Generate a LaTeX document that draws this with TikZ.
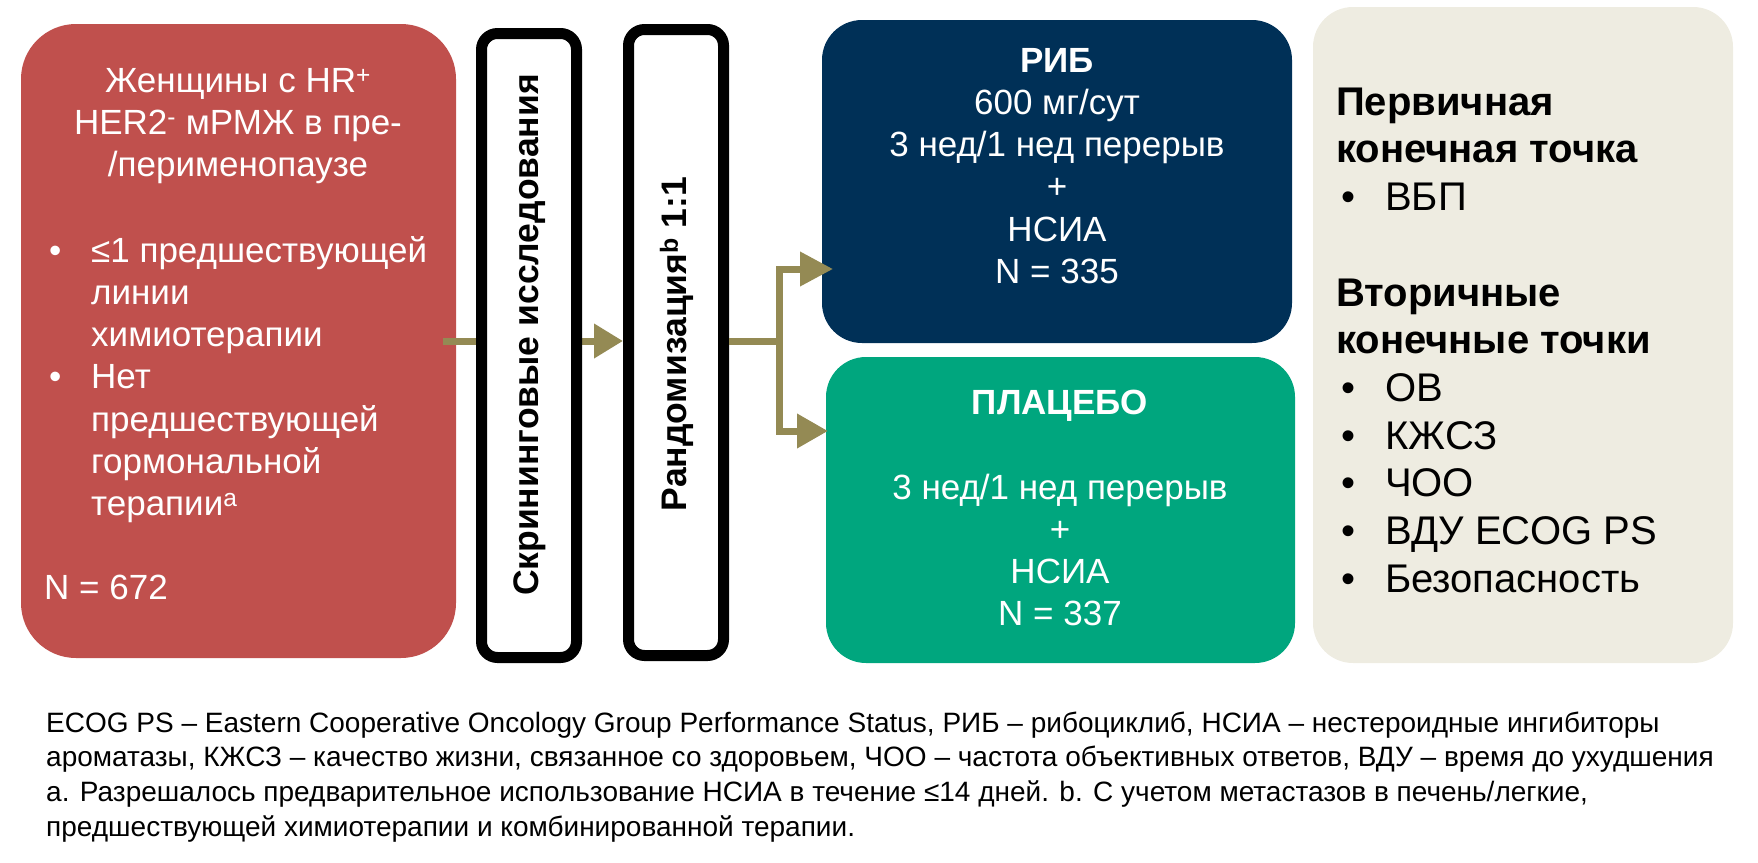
\documentclass[tikz,border=0pt]{standalone}
\usepackage{fontspec}
\setmainfont{Liberation Sans}
\usetikzlibrary{arrows.meta}
\definecolor{cred}{RGB}{192,80,77}
\definecolor{cnavy}{RGB}{0,48,87}
\definecolor{cteal}{RGB}{0,166,126}
\definecolor{cbeige}{RGB}{238,236,225}
\definecolor{colive}{RGB}{148,138,84}
\newcommand\fstrut{\rule{0pt}{1em}}
\newcommand\bul[1]{\makebox[#1][l]{\hspace{5pt}•}}
\begin{document}
\begin{tikzpicture}[x=1pt,y=-1pt,
  panel/.style={inner sep=0pt, outer sep=0pt},
  frame/.style={draw=black, line width=11pt, fill=white, rounded corners=16pt,
    inner sep=0pt, minimum width=95pt},
  arr/.style={draw=colive, line width=7pt},
  txt/.style={inner sep=0pt, text=white, font=\fontsize{35}{42.2}\selectfont},
  rtxt/.style={inner sep=0pt, rotate=90, font=\bfseries\fontsize{35.5}{42}\selectfont},
  etxt/.style={inner sep=0pt, text=black, align=left, anchor=north west,
    font=\fontsize{40}{47.7}\selectfont},
  foot/.style={inner sep=0pt, align=left, anchor=north west,
    font=\fontsize{28}{34.7}\selectfont}]
\useasboundingbox (0,0) rectangle (1758,862);

% boxes
\node[panel, fill=cred, rounded corners=55pt, minimum width=435pt, minimum height=634pt] (red) at (238.5,341) {};
\node[panel, fill=cnavy, rounded corners=40pt, minimum width=470pt, minimum height=323pt] (rib) at (1057,181.5) {};
\node[panel, fill=cteal, rounded corners=40pt, minimum width=469pt, minimum height=306pt] (plac) at (1060.5,510) {};
\node[panel, fill=cbeige, rounded corners=40pt, minimum width=420pt, minimum height=656pt] (endp) at (1523,335) {};
\node[frame, minimum height=626pt] (rand) at (676,342.5) {};

% arrow red -> randomisation (under screening frame)
\draw[arr, -{Triangle[length=29pt,width=33pt]}] ([xshift=-13pt]red.east) -- (red.east -| rand.west);

\node[frame, minimum height=624pt] (screen) at (529,345.5) {};

% branch
\coordinate (j) at (779,341);
\coordinate (jt) at (779,269);
\coordinate (jb) at (779,431);
\draw[arr] (j -| rand.east) -- (j);
\draw[arr, {Triangle[length=33pt,width=33pt]}-{Triangle[length=31pt,width=33pt]}]
  ([xshift=11pt]rib.west |- jt) -- (jt) -- (jb) -- ([xshift=2pt]plac.west |- jb);

% red box texts
\node[txt, align=center, anchor=north] (redtitle) at (238,57)
  {\fstrut Женщины с HR\textsuperscript{+}\\HER2\textsuperscript{-} мРМЖ в пре-\\/перименопаузе};
\node[txt, align=left, anchor=north west] (redbody) at (44,227)
  {\fstrut\bul{47pt}≤1 предшествующей\\
   \hspace*{47pt}линии\\
   \hspace*{47pt}химиотерапии\\
   \bul{47pt}Нет\\
   \hspace*{47pt}предшествующей\\
   \hspace*{47pt}гормональной\\
   \hspace*{47pt}терапии\textsuperscript{a}\\[42.2pt]
   N = 672};

% rotated texts
\node[rtxt] (screentxt) at (530,335) {Скрининговые исследования};
\node[rtxt] (randtxt) at (677,344) {Рандомизация\textsuperscript{b} 1:1};

% arm texts
\node[txt, align=center, anchor=north] (ribtxt) at (1057,37)
  {\fstrut\textbf{РИБ}\\600 мг/сут\\3 нед/1 нед перерыв\\+\\НСИА\\N = 335};
\node[txt, align=center, anchor=north] (plactxt) at (1060,379)
  {\fstrut\textbf{ПЛАЦЕБО}\\[42.6pt]3 нед/1 нед перерыв\\+\\НСИА\\N = 337};

% endpoints
\node[etxt] (endtxt) at (1336,75)
  {\fstrut\textbf{Первичная}\\
   \textbf{конечная точка}\\
   \bul{49pt}ВБП\\[47.7pt]
   \textbf{Вторичные}\\
   \textbf{конечные точки}\\
   \bul{49pt}ОВ\\
   \bul{49pt}КЖСЗ\\
   \bul{49pt}ЧОО\\
   \bul{49pt}ВДУ ECOG PS\\
   \bul{49pt}Безопасность};

% footnote
\node[foot] (fn) at (46,704)
  {\fstrut ECOG PS – Eastern Cooperative Oncology Group Performance Status, РИБ – рибоциклиб, НСИА – нестероидные ингибиторы\\
   ароматазы, КЖСЗ – качество жизни, связанное со здоровьем, ЧОО – частота объективных ответов, ВДУ – время до ухудшения\\
   a. Разрешалось предварительное использование НСИА в течение ≤14 дней. b. С учетом метастазов в печень/легкие,\\
   предшествующей химиотерапии и комбинированной терапии.};
\end{tikzpicture}
\end{document}
